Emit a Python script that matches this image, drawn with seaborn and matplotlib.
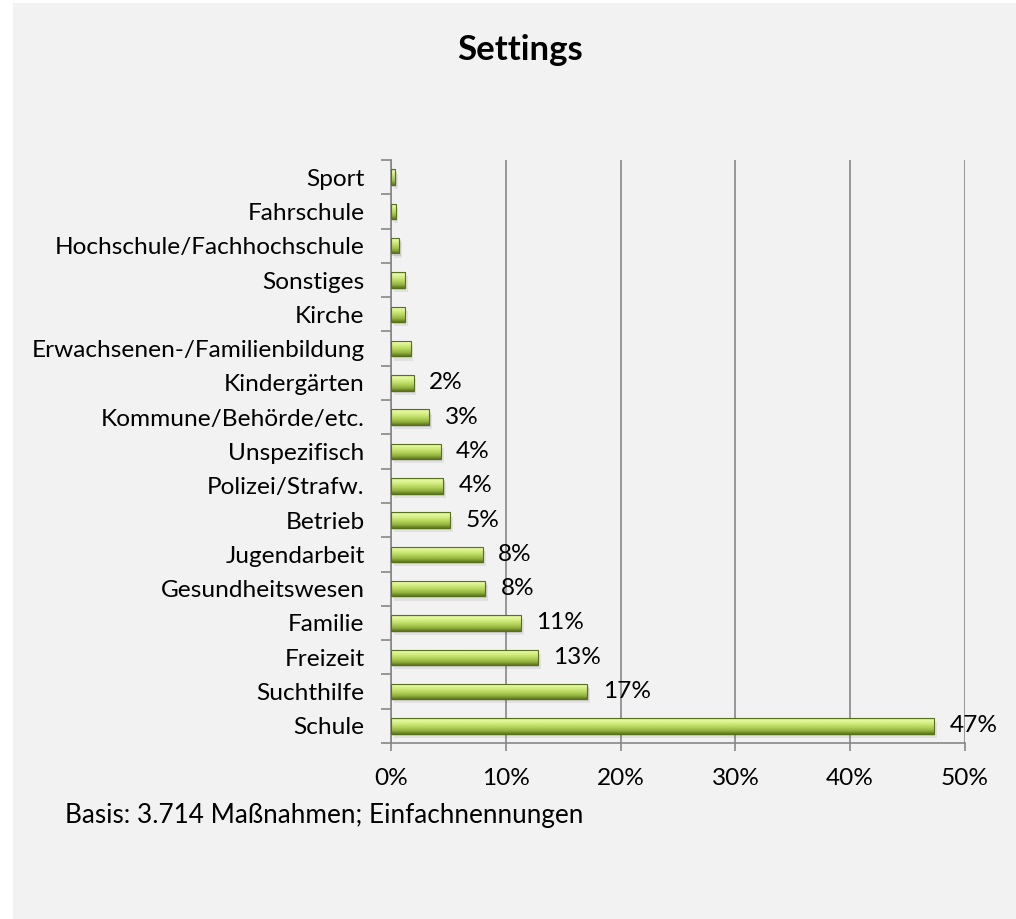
import numpy as np
import pandas as pd
import matplotlib
matplotlib.use("Agg")
import matplotlib.pyplot as plt
import matplotlib.patches as mpatches
import matplotlib.transforms as mtransforms
from matplotlib.colors import LinearSegmentedColormap
from matplotlib.ticker import MultipleLocator, PercentFormatter, FixedLocator
import seaborn as sns

# Settings of the measures (share of all measures, in %), listed top to bottom
settings = [
    "Sport", "Fahrschule", "Hochschule/Fachhochschule", "Sonstiges", "Kirche",
    "Erwachsenen-/Familienbildung", "Kindergärten", "Kommune/Behörde/etc.",
    "Unspezifisch", "Polizei/Strafw.", "Betrieb", "Jugendarbeit",
    "Gesundheitswesen", "Familie", "Freizeit", "Suchthilfe", "Schule",
]
shares = [0.37, 0.41, 0.72, 1.22, 1.22, 1.71, 1.97, 3.33,
          4.35, 4.55, 5.13, 8.0, 8.23, 11.3, 12.8, 17.1, 47.3]
# Value labels are printed only for settings of about 2 % and more
labels = ["", "", "", "", "", "", "2%", "3%",
          "4%", "4%", "5%", "8%", "8%", "11%", "13%", "17%", "47%"]

title = "Settings"
footnote = "Basis: 3.714 Maßnahmen; Einfachnennungen"

df = pd.DataFrame({"setting": settings, "share": shares})

sns.set_theme(style="white")
plt.rcParams["font.family"] = ["Lato", "DejaVu Sans"]

FS_CAT = 17.6
FS = 18.8

W, H = 1016, 919
fig = plt.figure(figsize=(W / 100, H / 100), dpi=100, facecolor="white")

# light grey chart area
fig.patches.append(mpatches.Rectangle((13 / W, 0), 1 - 13 / W, 1 - 3 / H,
                                      transform=fig.transFigure,
                                      facecolor="#f2f2f2", edgecolor="none",
                                      zorder=-10))

ax = fig.add_axes([391 / W, (H - 743) / H, 574 / W, 583 / H])
ax.set_facecolor("none")
ax.set_zorder(1)

sns.barplot(data=df, x="share", y="setting", orient="h", order=settings,
            color="#a9c94c", width=0.45, ax=ax, zorder=3)

# bevelled green fill for each bar
bevel = LinearSegmentedColormap.from_list("bevel", [
    (0.00, "#bedb6a"),
    (0.12, "#e8f9a2"),
    (0.30, "#d6ef86"),
    (0.55, "#b8d75e"),
    (0.80, "#93b23f"),
    (1.00, "#5d7621"),
])
grad = np.linspace(0, 1, 64).reshape(-1, 1)
bars = [p for p in ax.patches if isinstance(p, mpatches.Rectangle)]
for p in bars:
    x, y = p.get_x(), p.get_y()
    w, h = p.get_width(), p.get_height()
    # soft drop shadow below and right of the bar
    for dx, dy, a in [(1.0, -1.5, 0.14), (2.0, -3.0, 0.09)]:
        tr = ax.transData + mtransforms.ScaledTranslation(
            dx / 72, dy / 72, fig.dpi_scale_trans)
        ax.add_patch(mpatches.Rectangle((x, y), w, h, transform=tr,
                                        facecolor="#404040", edgecolor="none",
                                        alpha=a, zorder=2))
    img = ax.imshow(grad, cmap=bevel, aspect="auto", origin="lower",
                    extent=(x, x + w, y, y + h), zorder=4,
                    interpolation="bilinear")
    img.set_clip_path(p)
    p.set_edgecolor("#56701c")
    p.set_linewidth(0.8)
    p.set_zorder(5)
    p.set_facecolor("none")

ax.set_xlim(0, 50)
ax.set_ylim(len(settings) - 0.5, -0.5)

# value labels
for i, (val, lab) in enumerate(zip(shares, labels)):
    if lab:
        ax.annotate(lab, xy=(val, i), xytext=(11, 0), textcoords="offset points",
                    va="center", ha="left", fontsize=FS_CAT, color="black",
                    zorder=6)

# axes styling
ax.xaxis.set_major_locator(MultipleLocator(10))
ax.xaxis.set_major_formatter(PercentFormatter(decimals=0))
ax.grid(axis="x", color="#868686", linewidth=1.2, zorder=1)
ax.grid(axis="y", visible=False)
ax.set_axisbelow(True)
for side in ("top", "right"):
    ax.spines[side].set_visible(False)
for side in ("left", "bottom"):
    ax.spines[side].set_visible(True)
    ax.spines[side].set_color("#868686")
    ax.spines[side].set_linewidth(1.2)

ax.set_xlabel("")
ax.set_ylabel("")
ax.tick_params(axis="x", which="major", direction="out", length=6,
               width=1.2, color="#868686", labelsize=FS_CAT, labelcolor="black",
               pad=12, bottom=True)
# category labels without ticks, tick marks on the category boundaries
ax.tick_params(axis="y", which="major", length=0, labelsize=FS_CAT,
               labelcolor="black", pad=19)
ax.yaxis.set_minor_locator(FixedLocator(np.arange(-0.5, len(settings), 1.0)))
ax.tick_params(axis="y", which="minor", direction="out", length=7,
               width=1.2, color="#868686", left=True)

fig.text(520 / W, 1 - 50 / H, title, ha="center", va="center",
         fontsize=25, fontweight="bold", color="black")
fig.text(65 / W, 1 - 816 / H, footnote, ha="left", va="center",
         fontsize=FS, color="black")

fig.savefig("out.png", dpi=100, facecolor=fig.get_facecolor())
